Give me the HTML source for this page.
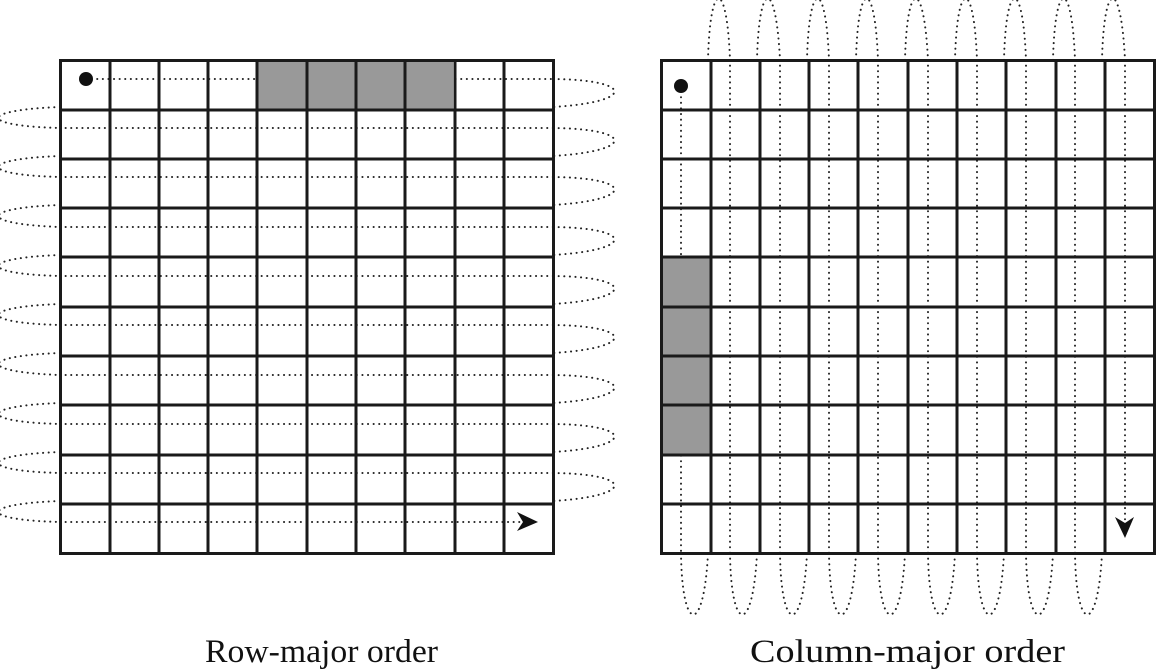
<!DOCTYPE html>
<html><head><style>
html,body{margin:0;padding:0;background:#fff;}
svg{display:block;}
</style></head><body>
<svg width="1158" height="670" viewBox="0 0 1158 670" xmlns="http://www.w3.org/2000/svg">
<g fill="none" stroke="#222" stroke-width="2" stroke-dasharray="0.1 5.5" stroke-linecap="round">
  <path d="M86,79 H553"/>
  <path d="M60,128 H553 M60,177 H553 M60,227 H553 M60,276 H553 M60,325 H553 M60,375 H553 M60,424 H553 M60,473 H553"/>
  <path d="M60,522 H520"/>
  <path d="M553,79 C635,80 635,102 553,107 M553,128 C635,129 635,151 553,156 M553,177 C635,178 635,200 553,205 M553,227 C635,228 635,250 553,255 M553,276 C635,277 635,299 553,304 M553,325 C635,326 635,348 553,353 M553,375 C635,376 635,398 553,403 M553,424 C635,425 635,447 553,452 M553,473 C635,474 635,496 553,501"/>
  <path d="M60,107 C-22,110 -22,126 60,128 M60,156 C-22,159 -22,175 60,177 M60,205 C-22,208 -22,224 60,227 M60,255 C-22,258 -22,274 60,276 M60,304 C-22,307 -22,323 60,325 M60,353 C-22,356 -22,372 60,375 M60,403 C-22,406 -22,422 60,424 M60,452 C-22,455 -22,471 60,473 M60,501 C-22,504 -22,520 60,522"/>
  <path d="M681,86 V553"/>
  <path d="M730,60 V553 M780,60 V553 M829,60 V553 M878,60 V553 M928,60 V553 M977,60 V553 M1026,60 V553 M1075,60 V553"/>
  <path d="M1125,60 V520"/>
  <path d="M681,553 C682,635 704,635 708,553 M730,553 C731,635 753,635 757,553 M780,553 C781,635 803,635 807,553 M829,553 C830,635 852,635 856,553 M878,553 C879,635 901,635 905,553 M928,553 C929,635 951,635 955,553 M977,553 C978,635 1000,635 1004,553 M1026,553 C1027,635 1049,635 1053,553 M1075,553 C1076,635 1098,635 1102,553"/>
  <path d="M708,60 C710,-22 727,-22 730,60 M757,60 C759,-22 776,-22 780,60 M807,60 C809,-22 826,-22 829,60 M856,60 C858,-22 875,-22 878,60 M905,60 C907,-22 924,-22 928,60 M955,60 C957,-22 974,-22 977,60 M1004,60 C1006,-22 1023,-22 1026,60 M1053,60 C1055,-22 1072,-22 1075,60 M1102,60 C1104,-22 1121,-22 1125,60"/>
</g>
<g>
  <rect x="258" y="61" width="195" height="49" fill="#999"/>
  <rect x="662" y="258" width="49" height="196" fill="#999"/>
</g>
<g fill="none" stroke="#1a1a1a" stroke-width="3">
  <rect x="60.5" y="60.5" width="493" height="493"/>
  <path d="M110,60V553 M159,60V553 M208,60V553 M257,60V553 M307,60V553 M356,60V553 M405,60V553 M455,60V553 M504,60V553"/>
  <path d="M60,110H553 M60,159H553 M60,208H553 M60,257H553 M60,307H553 M60,356H553 M60,405H553 M60,455H553 M60,504H553"/>
  <rect x="661.5" y="60.5" width="493" height="493"/>
  <path d="M711,60V553 M760,60V553 M809,60V553 M858,60V553 M908,60V553 M957,60V553 M1006,60V553 M1056,60V553 M1105,60V553"/>
  <path d="M661,110H1154 M661,159H1154 M661,208H1154 M661,257H1154 M661,307H1154 M661,356H1154 M661,405H1154 M661,455H1154 M661,504H1154"/>
</g>
<circle cx="86" cy="79" r="7" fill="#111"/>
<circle cx="681" cy="86" r="7" fill="#111"/>
<path d="M517,512 L538,522 L517,531 L523,522 Z" fill="#111"/>
<path d="M1115,517 L1125,538 L1134,517 L1125,523 Z" fill="#111"/>
<g font-family="Liberation Serif, serif" font-size="33" fill="#111">
  <text x="205" y="662" textLength="233" lengthAdjust="spacingAndGlyphs">Row-major order</text>
  <text x="750" y="662" textLength="315" lengthAdjust="spacingAndGlyphs">Column-major order</text>
</g>
</svg>
</body></html>
